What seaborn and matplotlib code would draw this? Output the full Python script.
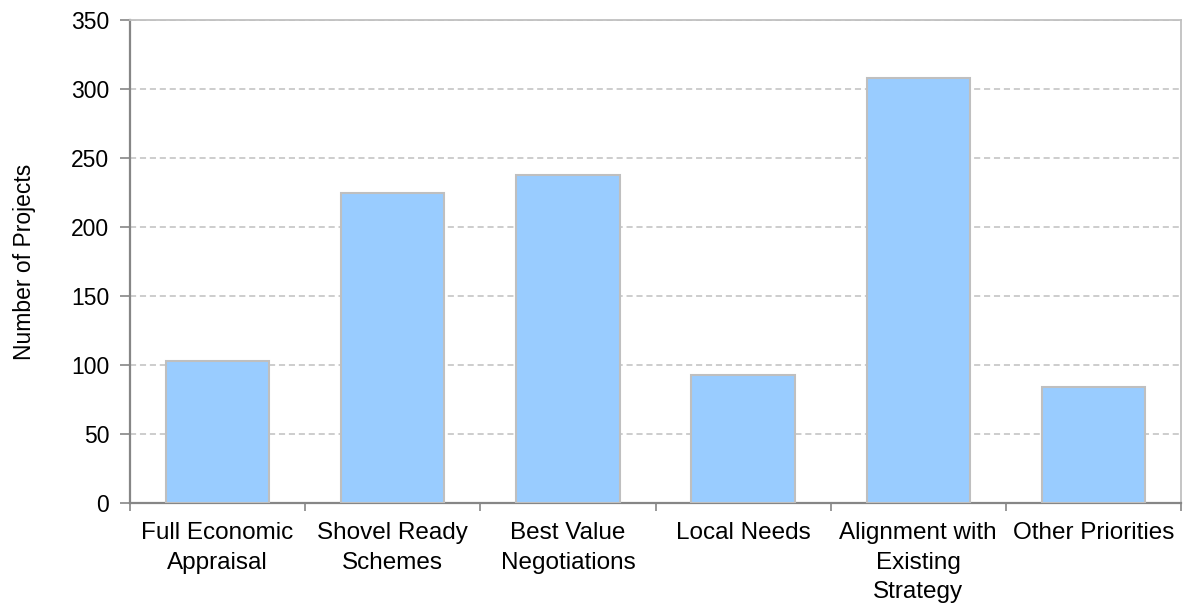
import matplotlib
matplotlib.use("Agg")
import matplotlib.pyplot as plt
import seaborn as sns
import pandas as pd

categories = [
    "Full Economic\nAppraisal",
    "Shovel Ready\nSchemes",
    "Best Value\nNegotiations",
    "Local Needs",
    "Alignment with\nExisting\nStrategy",
    "Other Priorities",
]
projects = [103, 225, 238, 93, 308, 84]
y_ticks = [0, 50, 100, 150, 200, 250, 300, 350]

sns.set_theme(style="white")
plt.rcParams["font.family"] = ["Liberation Sans", "DejaVu Sans"]

df = pd.DataFrame({"category": categories, "projects": projects})

fig = plt.figure(figsize=(11.86, 6.03), dpi=100)
ax = fig.add_axes([0.1096, 0.1658, 0.8862, 0.8010])

sns.barplot(data=df, x="category", y="projects", color="#99CCFF",
            edgecolor="#BFBFBF", linewidth=1.5, width=0.59, saturation=1,
            ax=ax, zorder=3)

ax.set_ylim(0, 350)
ax.set_xlim(-0.5, len(categories) - 0.5)
ax.set_yticks(y_ticks)
ax.set_yticklabels([str(t) for t in y_ticks], fontsize=16.5, color="black")

# dashed horizontal gridlines
ax.yaxis.grid(True, color="#C0C0C0", linestyle=(0, (4, 2.5)), linewidth=1.1, zorder=0)
ax.xaxis.grid(False)

# category labels centered, tick marks at category boundaries
ax.set_xticks(range(len(categories)))
ax.set_xticklabels(categories, fontsize=17.5, color="black", linespacing=1.42)
ax.tick_params(axis="x", which="major", length=0, pad=14)
ax.set_xticks([i - 0.5 for i in range(len(categories) + 1)], minor=True)
ax.tick_params(axis="x", which="minor", length=6, width=1.2, color="#868686", direction="out", bottom=True)
ax.tick_params(axis="y", which="major", length=7, width=1.2, color="#868686", direction="out", left=True, pad=8)

for side in ["left", "bottom"]:
    ax.spines[side].set_color("#868686")
    ax.spines[side].set_linewidth(1.6)
for side in ["top", "right"]:
    ax.spines[side].set_color("#C0C0C0")
    ax.spines[side].set_linewidth(1.3)

ax.set_xlabel("")
ax.set_ylabel("Number of Projects", fontsize=16.5, color="black", labelpad=25)

fig.savefig("out.png", dpi=100)
